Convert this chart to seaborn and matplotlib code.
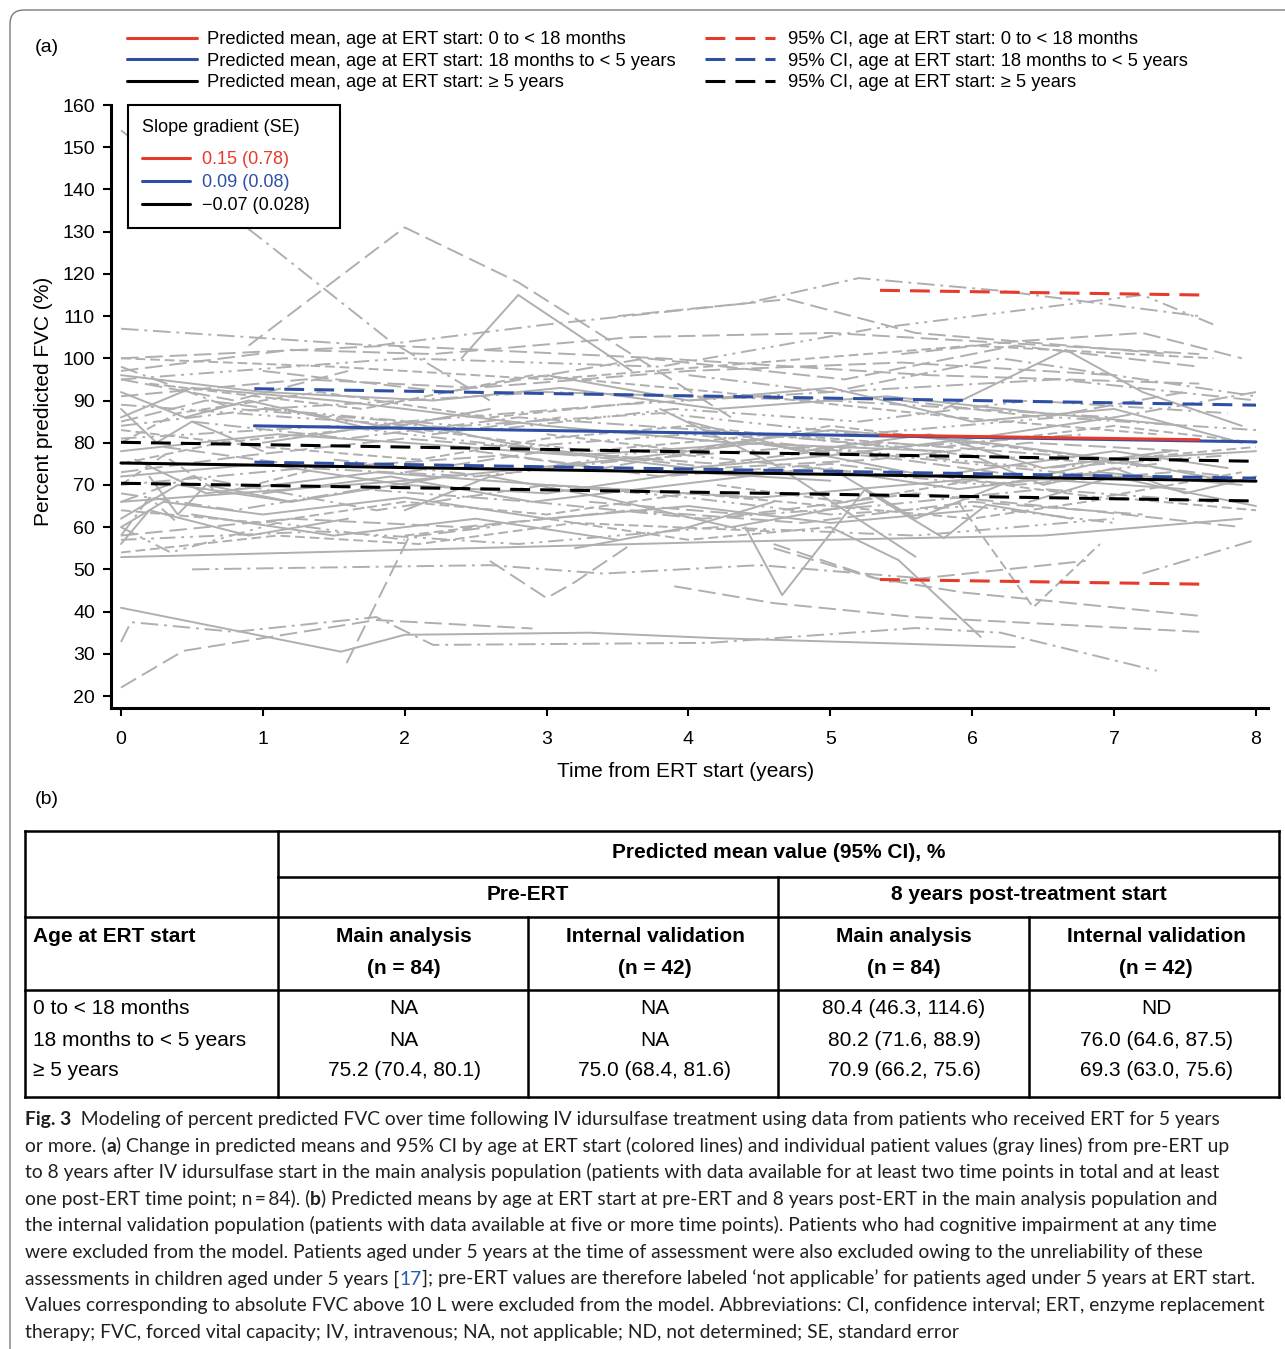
import matplotlib
matplotlib.use("Agg")
import matplotlib.pyplot as plt
from matplotlib.lines import Line2D
from matplotlib.patches import FancyBboxPatch
import pandas as pd
import seaborn as sns

# ---------------- data ----------------
# individual patient trajectories (years from ERT start, percent predicted FVC)
patient_times = [
    [0.0, 1.0, 1.9, 2.6], [0.9, 2.0, 2.8, 4.3], [0.0, 1.8, 3.0, 4.4, 5.2, 6.2, 7.6],
    [0.0, 1.2, 2.2, 3.6, 5.0, 7.6], [0.0, 2.0, 3.8, 5.3, 7.2, 7.7], [3.5, 4.7, 5.6, 7.4],
    [0.0, 1.5, 3.0, 4.5, 6.0, 7.7], [2.4, 2.8, 3.6], [0.0, 1.0, 2.2, 3.1, 4.2, 5.4, 6.5, 7.5],
    [0.0, 1.3, 2.5, 4.0, 5.5, 7.0], [0.0, 0.8, 2.0, 3.5, 5.0, 6.6, 8.0], [0.0, 0.5, 1.5, 3.0, 4.3, 5.8],
    [0.2, 1.7, 2.9, 4.2, 5.9, 7.3], [0.0, 1.2, 2.6, 3.9, 5.2, 6.4, 7.8], [1.0, 2.3, 3.7, 5.1, 6.3, 7.6],
    [3.0, 4.0, 5.0, 6.0, 7.0, 7.9], [4.0, 5.0, 6.2, 7.4, 8.0], [5.8, 6.66, 7.2, 7.9],
    [5.5, 6.3, 7.2, 7.9], [0.0, 1.1, 2.0, 3.2, 4.1, 5.0, 6.1, 7.0, 8.0],
    [0.0, 1.0, 2.1, 3.0, 4.0, 5.1, 6.0, 7.1], [0.0, 0.9, 2.0, 3.1, 4.2, 5.3, 6.4, 7.5],
    [0.0, 1.3, 2.5, 3.6, 4.8, 6.0, 7.2], [0.1, 0.6, 1.8, 3.0, 4.5, 6.2, 7.5],
    [0.0, 1.5, 2.8, 4.0, 5.2, 6.5, 7.8], [0.3, 1.4, 2.7, 3.8, 5.0, 6.3, 7.4],
    [0.0, 1.0, 2.0, 3.0, 4.0, 5.0], [0.0, 0.7, 1.9, 3.3, 4.6, 5.8, 7.0, 8.0],
    [0.5, 1.6, 2.8, 4.1, 5.5, 6.8], [1.0, 2.0, 3.0, 4.0, 5.0, 6.0, 7.0],
    [2.0, 3.0, 4.2, 5.4, 6.6, 7.8], [0.0, 2.0, 3.5, 4.5, 5.7, 7.0, 7.8],
    [1.5, 2.6, 3.7, 4.9, 6.1, 7.3], [3.0, 4.0, 5.0, 6.0, 7.0, 8.0], [3.8, 4.6, 5.6],
    [0.0, 0.4, 1.2, 2.3], [0.0, 0.3, 1.0, 2.0, 3.0, 4.0, 5.0, 6.0],
    [0.0, 1.0, 2.0, 3.0, 4.0, 5.0, 6.0, 7.0, 8.0], [0.0, 1.2, 2.4, 3.6, 4.8, 6.0, 7.2],
    [0.0, 0.8, 1.7, 2.9, 4.1, 5.3, 6.5, 7.7], [0.0, 0.2, 0.9, 1.6], [0.0, 1.4, 2.8, 4.2, 5.6, 7.0],
    [0.0, 4.2, 6.5, 7.9], [0.5, 2.6, 3.4, 4.5, 5.6], [4.6, 5.3, 5.94, 7.6], [3.9, 4.6, 5.6, 7.6],
    [4.4, 4.66, 5.24, 5.8, 6.1, 6.7], [5.0, 5.48, 6.06], [2.6, 3.0, 3.2, 3.6], [4.6, 5.4, 6.8],
    [5.9, 6.43, 6.9], [7.2, 8.0], [6.4, 7.0, 7.4, 8.0], [5.0, 5.6, 6.2, 7.0, 7.8],
    [4.2, 5.1, 6.0, 6.9, 7.9], [3.3, 4.4, 5.6, 6.8, 7.9], [3.0, 4.0, 5.0, 6.0, 7.0],
    [0.0, 1.55, 2.0, 3.3, 4.2, 6.3], [0.0, 0.44, 1.8, 2.9],
    [0.0, 0.07, 0.8, 1.8, 2.2, 4.15, 5.6, 6.2, 7.3], [1.59, 2.03, 2.6], [0.0, 0.25, 0.5, 1.0],
    [0.0, 0.3, 0.7, 1.4], [0.0, 0.45, 0.9, 1.8, 2.6], [0.0, 0.35, 1.1, 2.0], [0.0, 0.6, 1.3, 2.2, 3.1],
    [0.2, 0.4, 0.6, 1.2], [0.0, 0.5, 1.0, 1.8, 3.0, 4.5], [0.0, 1.1, 2.1, 3.2, 4.6],
    [1.0, 1.9, 2.9, 3.9, 4.9, 5.9, 6.9, 7.9], [0.0, 0.8, 1.6], [2.0, 2.6, 3.4, 4.3, 5.3],
    [1.0, 2.4, 3.8, 5.2, 6.6, 8.0], [0.0, 0.4, 1.4, 2.6, 3.8], [4.0, 4.8, 5.7, 6.5, 7.4],
    [0.0, 1.9, 3.8, 5.7, 7.6], [0.0, 1.0, 3.0, 5.0, 7.0, 8.0], [6.0, 6.5, 7.0, 7.5, 8.0],
    [5.5, 6.5, 7.5], [2.0, 3.0, 4.0, 5.0], [3.2, 4.0, 4.6], [0.0, 0.2, 0.4],
    [0.5, 1.5, 2.5, 3.5], [2.5, 3.4, 4.4, 5.5, 6.6],
]
patient_fvc = [
    [154, 128, 104, 90], [103, 131, 118, 86], [107, 103, 108, 113, 119, 116, 110],
    [97, 102, 101, 105, 106, 101], [95, 100, 98, 107, 115, 108], [110, 114, 106, 101],
    [100, 98, 95, 99, 103, 100], [100, 115, 97], [96, 92, 90, 93, 88, 91, 87, 84],
    [91, 95, 93, 97, 99, 96], [98, 88, 85, 89, 92, 95, 90], [86, 93, 90, 84, 80, 78],
    [94, 88, 96, 92, 86, 82], [89, 86, 83, 88, 85, 90, 87], [97, 92, 100, 95, 103, 98],
    [96, 90, 93, 85, 88, 80], [96, 92, 100, 94, 91], [88, 102, 92, 84],
    [101, 104, 106, 100], [78, 82, 80, 77, 79, 83, 80, 76, 78],
    [83, 79, 76, 81, 84, 80, 77, 75], [73, 77, 81, 78, 74, 76, 80, 78],
    [70, 74, 72, 76, 79, 75, 71], [76, 68, 73, 70, 67, 72, 69],
    [81, 84, 79, 82, 78, 74, 77], [79, 74, 77, 72, 75, 70, 73],
    [72, 75, 70, 68, 73, 71], [75, 80, 84, 78, 82, 79, 84, 80],
    [85, 81, 86, 83, 79, 82], [80, 85, 78, 74, 77, 81, 86],
    [73, 78, 75, 80, 77, 72], [66, 71, 76, 80, 72, 78, 74],
    [76, 72, 78, 74, 70, 75], [82, 78, 84, 80, 76, 79], [88, 75, 53],
    [62, 70, 66, 72], [60, 66, 63, 67, 62, 65, 61, 64],
    [64, 61, 66, 63, 68, 65, 62, 67, 64], [58, 62, 60, 64, 61, 66, 63],
    [68, 64, 69, 66, 62, 65, 69, 66], [56, 64, 58, 62], [57, 59, 56, 60, 58, 62],
    [52.9, 56.5, 58, 62], [50, 51, 49, 51, 48], [55, 48, 44.5, 39], [46, 42, 38.7, 35.2],
    [60, 43.9, 68.8, 57.4, 65.3, 62], [60, 52.2, 34], [52, 43.2, 47, 56], [56, 47, 52],
    [66, 41, 56], [49, 57], [66, 72, 69, 65], [74, 62, 70, 76, 71],
    [70, 66, 71, 67, 73], [66, 63, 68, 64, 60], [70, 67, 63, 65, 61],
    [40.9, 30.5, 34.5, 35, 33.7, 31.6], [22, 30.7, 38, 36],
    [32.8, 37.5, 35.2, 38.7, 32.1, 32.6, 36.1, 35, 26], [27.8, 57.7, 60], [88, 80, 85, 78],
    [70, 77, 68, 74], [92, 86, 90, 83, 88], [60, 54, 61, 57], [85, 90, 87, 82, 86],
    [72, 63, 70, 66], [66, 72, 69, 64, 70, 67], [54, 58, 56, 61, 59],
    [68, 72, 66, 70, 74, 69, 73, 70], [95, 90, 97], [64, 72, 67, 60, 66],
    [88, 84, 87, 82, 86, 83], [80, 87, 92, 86, 90], [85, 78, 82, 74, 78],
    [100, 103, 100, 96, 94], [84, 88, 92, 90, 86, 92], [77, 70, 74, 68, 72],
    [90, 86, 92], [58, 62, 57, 60], [55, 60, 66], [58, 67, 61],
    [63, 58, 62, 57], [78, 74, 80, 76, 71],
]
patient_style = [
    "dd", "l", "dd", "l", "ddd", "l", "d", "s", "s", "l",
    "dd", "s", "d", "ddd", "l", "s", "dd", "s", "l", "s",
    "d", "l", "dd", "s", "ddd", "l", "s", "d", "dd", "s",
    "l", "s", "ddd", "d", "s", "s", "s", "d", "l", "dd",
    "s", "ddd", "s", "dd", "l", "l", "s", "s", "l", "l",
    "d", "dd", "s", "s", "d", "l", "ddd", "s", "l", "dd",
    "l", "s", "d", "s", "ddd", "l", "s", "dd", "d", "s",
    "l", "s", "ddd", "d", "s", "l", "dd", "s", "l", "d",
    "s", "dd", "s", "l",
]

# predicted means and 95% CI by age at ERT start
age_groups = ["0 to < 18 months", "18 months to < 5 years", "\u2265 5 years"]
group_colors = ["#e63a2c", "#2d4fa4", "#000000"]
model_t = [[5.35, 7.6], [0.94, 8.0], [0.0, 8.0]]
model_mean = [[81.8, 80.7], [84.0, 80.2], [75.2, 70.9]]
model_lo = [[47.6, 46.5], [75.4, 71.6], [70.4, 66.2]]
model_hi = [[116.1, 115.0], [92.8, 88.9], [80.1, 75.6]]
slope_labels = ["0.15 (0.78)", "0.09 (0.08)", "\u22120.07 (0.028)"]

# table (b)
table_rows = ["0 to < 18 months", "18 months to < 5 years", "\u2265 5 years"]
pre_main = ["NA", "NA", "75.2 (70.4, 80.1)"]
pre_valid = ["NA", "NA", "75.0 (68.4, 81.6)"]
post_main = ["80.4 (46.3, 114.6)", "80.2 (71.6, 88.9)", "70.9 (66.2, 75.6)"]
post_valid = ["ND", "76.0 (64.6, 87.5)", "69.3 (63.0, 75.6)"]

x_ticks = [0, 1, 2, 3, 4, 5, 6, 7, 8]
y_ticks = [20, 30, 40, 50, 60, 70, 80, 90, 100, 110, 120, 130, 140, 150, 160]

# ---------------- style ----------------
sns.set_theme(style="ticks")
plt.rcParams["font.family"] = ["Liberation Sans", "DejaVu Sans"]
plt.rcParams["axes.edgecolor"] = "black"
plt.rcParams["xtick.color"] = "black"
plt.rcParams["ytick.color"] = "black"
plt.rcParams["text.color"] = "black"
plt.rcParams["axes.labelcolor"] = "black"

W, H = 1285, 1349
fig = plt.figure(figsize=(W / 100, H / 100), dpi=100)
fig.patch.set_facecolor("white")

# background layer in pixel units for frame, table and caption
ax_bg = fig.add_axes([0, 0, 1, 1])
ax_bg.set_xlim(0, W)
ax_bg.set_ylim(H, 0)
ax_bg.axis("off")
ax_bg.add_patch(FancyBboxPatch((10, 10), W + 40, H + 40,
                               boxstyle="round,pad=0,rounding_size=14",
                               fill=False, edgecolor="#7a7a7a", linewidth=1.0,
                               clip_on=False))

# ---------------- panel (a) ----------------
ax = fig.add_axes([111 / W, 1 - 708 / H, 1157 / W, 603 / H])
ax.set_facecolor("none")

gray_df = pd.DataFrame([
    {"pid": i, "t": t, "fvc": v, "style": patient_style[i]}
    for i in range(len(patient_times))
    for t, v in zip(patient_times[i], patient_fvc[i])
])
gray_dashes = {"s": "", "d": (5, 2.5), "l": (9, 3.5),
               "dd": (9, 3, 1.5, 3), "ddd": (8, 3, 1.5, 3, 1.5, 3)}
sns.lineplot(data=gray_df, x="t", y="fvc", units="pid", estimator=None,
             style="style", dashes=gray_dashes, color="#afafaf",
             linewidth=1.4, legend=False, ax=ax, zorder=1)

for gi in [2, 1, 0]:
    rows = []
    for kind, vals in (("mean", model_mean[gi]), ("lo", model_lo[gi]), ("hi", model_hi[gi])):
        for t, v in zip(model_t[gi], vals):
            rows.append({"series": kind, "kind": "mean" if kind == "mean" else "ci",
                         "t": t, "v": v})
    sns.lineplot(data=pd.DataFrame(rows), x="t", y="v", units="series",
                 estimator=None, style="kind",
                 dashes={"mean": "", "ci": (6.5, 3.3)},
                 color=group_colors[gi], linewidth=2.2, legend=False, ax=ax, zorder=3)

ax.set_xlim(-0.0705, 8.0846)
ax.set_ylim(17.16, 160)
ax.set_xticks(x_ticks)
ax.set_yticks(y_ticks)
ax.tick_params(axis="both", labelsize=14, width=1.5, colors="black")
ax.tick_params(axis="x", length=6, pad=10.5)
ax.tick_params(axis="y", length=6, pad=5.5)
sns.despine(ax=ax)
for side in ("left", "bottom"):
    ax.spines[side].set_linewidth(2.2)
ax.set_xlabel("Time from ERT start (years)", fontsize=15)
ax.set_ylabel("Percent predicted FVC (%)", fontsize=15)
ax.xaxis.set_label_coords(0.4966, -0.0896)
ax.yaxis.set_label_coords(-0.050, 0.509)

# slope gradient box
slope_handles = [Line2D([], [], color=c, lw=2.2) for c in group_colors]
leg = ax.legend(slope_handles, slope_labels, title="Slope gradient (SE)",
                loc="upper left", bbox_to_anchor=(17 / 1157, 0.5, 212 / 1157, 0.5),
                mode="expand", borderaxespad=0,
                fontsize=13, title_fontsize=13, handlelength=2.65, handletextpad=0.65,
                labelspacing=0.33, borderpad=0.78, alignment="left",
                labelcolor="linecolor", fancybox=False, framealpha=1,
                edgecolor="black")
leg.get_frame().set_linewidth(1.5)
leg._legend_box.sep = 10.9

# top legends
mean_handles = [Line2D([], [], color=c, lw=2.2) for c in group_colors]
ci_handles = [Line2D([], [], color=c, lw=2.2, dashes=(6.5, 3.3)) for c in group_colors]
fig.legend(mean_handles, ["Predicted mean, age at ERT start: " + g for g in age_groups],
           loc="upper left", bbox_to_anchor=(127 / W, 1 - 31 / H), frameon=False,
           fontsize=13.25, handlelength=3.83, handletextpad=0.54, labelspacing=0.25,
           borderpad=0, borderaxespad=0)
fig.legend(ci_handles, ["95% CI, age at ERT start: " + g for g in age_groups],
           loc="upper left", bbox_to_anchor=(705 / W, 1 - 31 / H), frameon=False,
           fontsize=13.25, handlelength=3.83, handletextpad=0.69, labelspacing=0.25,
           borderpad=0, borderaxespad=0)

ax_bg.text(47, 48, "(a)", fontsize=14, ha="center", va="center")
ax_bg.text(47, 800, "(b)", fontsize=14, ha="center", va="center")

# ---------------- table (b) ----------------
rule = dict(color="black", linewidth=1.8, solid_capstyle="projecting")
ax_bg.plot([25, 1279], [831, 831], **rule)
ax_bg.plot([25, 1279], [1097, 1097], **rule)
ax_bg.plot([25, 25], [831, 1097], **rule)
ax_bg.plot([1279, 1279], [831, 1097], **rule)
ax_bg.plot([278, 278], [831, 1097], **rule)
ax_bg.plot([278, 1279], [877, 877], **rule)
ax_bg.plot([778, 778], [877, 1097], **rule)
ax_bg.plot([25, 1279], [917, 917], **rule)
ax_bg.plot([528, 528], [917, 1097], **rule)
ax_bg.plot([1029, 1029], [917, 1097], **rule)
ax_bg.plot([25, 1279], [990, 990], **rule)

tfs = 15
ax_bg.text(778.5, 853, "Predicted mean value (95% CI), %", fontsize=tfs,
           fontweight="bold", ha="center", va="center")
ax_bg.text(528, 895, "Pre-ERT", fontsize=tfs, fontweight="bold", ha="center", va="center")
ax_bg.text(1029, 895, "8 years post-treatment start", fontsize=tfs, fontweight="bold",
           ha="center", va="center")
ax_bg.text(33, 937, "Age at ERT start", fontsize=tfs, fontweight="bold", ha="left", va="center")
col_centers = [404, 655, 904, 1156]
for cx, head, nn in zip(col_centers,
                        ["Main analysis", "Internal validation", "Main analysis", "Internal validation"],
                        ["(n = 84)", "(n = 42)", "(n = 84)", "(n = 42)"]):
    ax_bg.text(cx, 937, head, fontsize=tfs, fontweight="bold", ha="center", va="center")
    ax_bg.text(cx, 969, nn, fontsize=tfs, fontweight="bold", ha="center", va="center")
row_y = [1008, 1040, 1071]
for i, ry in enumerate(row_y):
    ax_bg.text(33, ry, table_rows[i], fontsize=tfs, ha="left", va="center")
    for cx, col in zip(col_centers, [pre_main, pre_valid, post_main, post_valid]):
        ax_bg.text(cx, ry, col[i], fontsize=tfs, ha="center", va="center")

# ---------------- caption ----------------
ink = "#231f20"
link = "#2a5caa"
caption_lines = [
    [("Fig. 3", "bold", ink), ("  Modeling of percent predicted FVC over time following IV idursulfase treatment using data from patients who received ERT for 5 years", "normal", ink)],
    [("or more. (", "normal", ink), ("a", "bold", ink), (") Change in predicted means and 95% CI by age at ERT start (colored lines) and individual patient values (gray lines) from pre-ERT up", "normal", ink)],
    [("to 8 years after IV idursulfase start in the main analysis population (patients with data available for at least two time points in total and at least", "normal", ink)],
    [("one post-ERT time point; n\u2009=\u200984). (", "normal", ink), ("b", "bold", ink), (") Predicted means by age at ERT start at pre-ERT and 8 years post-ERT in the main analysis population and", "normal", ink)],
    [("the internal validation population (patients with data available at five or more time points). Patients who had cognitive impairment at any time", "normal", ink)],
    [("were excluded from the model. Patients aged under 5 years at the time of assessment were also excluded owing to the unreliability of these", "normal", ink)],
    [("assessments in children aged under 5 years [", "normal", ink), ("17", "normal", link), ("]; pre-ERT values are therefore labeled \u2018not applicable\u2019 for patients aged under 5 years at ERT start.", "normal", ink)],
    [("Values corresponding to absolute FVC above 10 L were excluded from the model. Abbreviations: CI, confidence interval; ERT, enzyme replacement", "normal", ink)],
    [("therapy; FVC, forced vital capacity; IV, intravenous; NA, not applicable; ND, not determined; SE, standard error", "normal", ink)],
]
cap_family = ["Lato", "DejaVu Sans"]
renderer = fig.canvas.get_renderer()


def advance(s, size, weight):
    probe = ax_bg.text(0, 0, s + "|", fontsize=size, fontweight=weight, family=cap_family)
    bar = ax_bg.text(0, 0, "|", fontsize=size, fontweight=weight, family=cap_family)
    w = probe.get_window_extent(renderer).width - bar.get_window_extent(renderer).width
    probe.remove()
    bar.remove()
    return w


base = 13.0
w_first = sum(advance(s, base, wt) for s, wt, _ in caption_lines[0])
cap_size = base * 1195.0 / w_first

for k, runs in enumerate(caption_lines):
    y = 1125 + 26.6 * k
    x = 25.0
    for s, wt, col in runs:
        ax_bg.text(x, y, s, fontsize=cap_size, fontweight=wt, color=col,
                   family=cap_family, ha="left", va="baseline")
        x += advance(s, cap_size, wt)

fig.savefig("out.png", dpi=100, facecolor="white")
